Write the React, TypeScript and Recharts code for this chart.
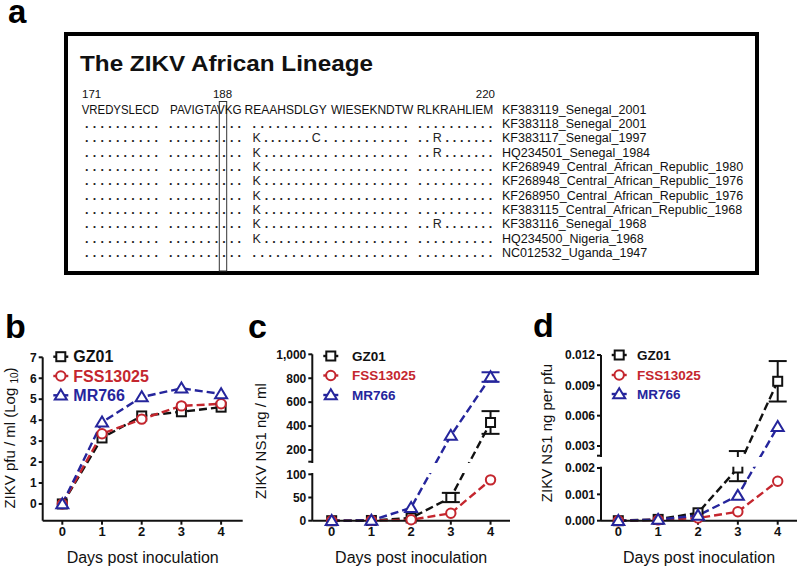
import { ErrorBar, Line, LineChart, XAxis, YAxis } from "recharts"

const FONT = '"Liberation Sans", Arial, Helvetica, sans-serif'
const INK = "#111111"
const RED = "#c4262e"
const BLUE = "#25259c"

// ---- panel a: alignment ----
const firstPos = "171"
const markPos = "188"
const lastPos = "220"
const refBlocks = ["VREDYSLECD", "PAVIGTAVKG", "REAAHSDLGY", "WIESEKNDTW", "RLKRAHLIEM"]
const strainNames = [
  "KF383119_Senegal_2001",
  "KF383118_Senegal_2001",
  "KF383117_Senegal_1997",
  "HQ234501_Senegal_1984",
  "KF268949_Central_African_Republic_1980",
  "KF268948_Central_African_Republic_1976",
  "KF268950_Central_African_Republic_1976",
  "KF383115_Central_African_Republic_1968",
  "KF383116_Senegal_1968",
  "HQ234500_Nigeria_1968",
  "NC012532_Uganda_1947",
]
const D = ".........."
const alnRows = [
  [D, D, D, D, D],
  [D, D, "K.......C.", D, "..R......."],
  [D, D, "K.........", D, "..R......."],
  [D, D, "K.........", D, D],
  [D, D, "K.........", D, D],
  [D, D, "K.........", D, D],
  [D, D, "K.........", D, D],
  [D, D, "K.........", D, "..R......."],
  [D, D, "K.........", D, D],
  [D, D, D, D, D],
]

// ---- panels b-d ----
const days = [0, 1, 2, 3, 4]
const seriesNames = ["GZ01", "FSS13025", "MR766"]

// b: ZIKV pfu / ml (log10)
const gzPfu = [0, 3.15, 4.2, 4.4, 4.62]
const fssPfu = [0, 3.35, 4.05, 4.68, 4.78]
const mrPfu = [0, 3.9, 5.1, 5.52, 5.25]
const pfuTicks = [0, 1, 2, 3, 4, 5, 6, 7]

// c: ZIKV NS1 ng / ml
const gzNs1 = [0, 0.5, 6, 50, 430]
const gzNs1Err = [0, 0, 0, 10, 95]
const fssNs1 = [0, 0.3, 2, 16, 88]
const mrNs1 = [0, 0.5, 28, 320, 810]
const mrNs1Err = [0, 0, 0, 0, 40]
const ns1Ticks = [0, 50, 100, 200, 400, 600, 800, 1000]
const ns1TickLabels = ["0", "50", "100", "200", "400", "600", "800", "1,000"]

// d: ZIKV NS1 ng per pfu
const gzRatio = [0, 0.00005, 0.0003, 0.002, 0.0094]
const gzRatioErr = [0, 0, 0, 0.0005, 0.002]
const fssRatio = [0, 0.00003, 0.0001, 0.00034, 0.0015]
const mrRatio = [0, 0.00004, 0.0002, 0.00095, 0.0049]
const ratioTicks = [0, 0.001, 0.002, 0.003, 0.006, 0.009, 0.012]
const ratioTickLabels = ["0.000", "0.001", "0.002", "0.003", "0.006", "0.009", "0.012"]

// broken y axis: lower segment up to lowMax, upper segment from upBase
type Brk = { lowMax: number; lowPx: number; upBase: number; upBasePx: number; upPerUnit: number; gapTop: number }
const brkC: Brk = { lowMax: 100, lowPx: 46.4, upBase: 200, upBasePx: 70.7, upPerUnit: 0.1196, gapTop: 59 }
const brkD: Brk = { lowMax: 0.002, lowPx: 52.7, upBase: 0.003, upBasePx: 74.7, upPerUnit: 10111, gapTop: 65 }

const tf = (b: Brk, v: number) =>
  v <= b.lowMax ? (v * b.lowPx) / b.lowMax : b.upBasePx + (v - b.upBase) * b.upPerUnit

const errPair = (b: Brk, v: number, e: number) =>
  e ? [tf(b, v) - tf(b, v - e), tf(b, v + e) - tf(b, v)] : null

type Geo = {
  left: number; top: number; width: number; height: number
  plotLeft: number; plotRight: number; plotTop: number; plotBottom: number
  xMin: number; xMax: number
}
const X_AXIS_H = 30
const geoB: Geo = { left: 0, top: 330, width: 260, height: 237, plotLeft: 42.7, plotRight: 242.7, plotTop: 357.3, plotBottom: 520.7, xMin: -0.494, xMax: 4.544 }
const geoC: Geo = { left: 260, top: 330, width: 265, height: 237, plotLeft: 312.3, plotRight: 510, plotTop: 354.3, plotBottom: 520.7, xMin: -0.488, xMax: 4.49 }
const geoD: Geo = { left: 530, top: 330, width: 270, height: 237, plotLeft: 601, plotRight: 797, plotTop: 355, plotBottom: 520.7, xMin: -0.434, xMax: 4.484 }

type Shape = "square" | "circle" | "triangle"
const styles: { key: string; color: string; shape: Shape }[] = [
  { key: "gz", color: INK, shape: "square" },
  { key: "fss", color: RED, shape: "circle" },
  { key: "mr", color: BLUE, shape: "triangle" },
]

function Marker({ shape, x, y, color }: { shape: Shape; x: number; y: number; color: string }) {
  if (shape === "square")
    return <rect x={x - 4.5} y={y - 4.5} width={9} height={9} fill="#fff" stroke={color} strokeWidth={2} />
  if (shape === "circle") return <circle cx={x} cy={y} r={4.7} fill="#fff" stroke={color} strokeWidth={2} />
  return (
    <polygon
      points={`${x},${y - 5.8} ${x - 6},${y + 4.2} ${x + 6},${y + 4.2}`}
      fill="#fff"
      stroke={color}
      strokeWidth={2}
    />
  )
}

const makeDot = (shape: Shape, color: string) => (p: any) => {
  if (p.cx == null || p.cy == null) return <g key={p.index} />
  return (
    <g key={p.index}>
      <Marker shape={shape} x={p.cx} y={p.cy} color={color} />
    </g>
  )
}

function Panel({
  geo, data, yDomain, yTicks, yFormat, errKeys,
}: {
  geo: Geo; data: any[]; yDomain: number[]; yTicks: number[]
  yFormat: (v: number) => string; errKeys: Record<string, string>
}) {
  const margin = {
    top: geo.plotTop - geo.top,
    right: geo.left + geo.width - geo.plotRight,
    bottom: geo.top + geo.height - geo.plotBottom - X_AXIS_H,
    left: 0,
  }
  const tickStyle = { fontSize: 12, fontWeight: 700, fill: INK, fontFamily: FONT }
  return (
    <div style={{ position: "absolute", left: geo.left, top: geo.top }}>
      <LineChart width={geo.width} height={geo.height} data={data} margin={margin}>
        <XAxis
          type="number"
          dataKey="day"
          domain={[geo.xMin, geo.xMax]}
          ticks={days}
          interval={0}
          height={X_AXIS_H}
          tickSize={4}
          tickMargin={2}
          tick={{ ...tickStyle, fontSize: 13 }}
          axisLine={{ stroke: INK, strokeWidth: 2 }}
          tickLine={{ stroke: INK, strokeWidth: 2 }}
        />
        <YAxis
          type="number"
          domain={yDomain}
          ticks={yTicks}
          interval={0}
          width={geo.plotLeft - geo.left}
          tickSize={4}
          tickMargin={2}
          tickFormatter={yFormat}
          tick={tickStyle}
          axisLine={{ stroke: INK, strokeWidth: 2 }}
          tickLine={{ stroke: INK, strokeWidth: 2 }}
        />
        {styles.map((s) => (
          <Line
            key={s.key}
            type="linear"
            dataKey={s.key}
            stroke={s.color}
            strokeWidth={2.4}
            strokeDasharray="8 4"
            dot={makeDot(s.shape, s.color)}
            activeDot={false}
            isAnimationActive={false}
          >
            {errKeys[s.key] ? (
              <ErrorBar dataKey={errKeys[s.key]} width={9} strokeWidth={2} stroke={s.color} direction="y" />
            ) : null}
          </Line>
        ))}
      </LineChart>
    </div>
  )
}

const dataB = days.map((d, i) => ({ day: d, gz: gzPfu[i], fss: fssPfu[i], mr: mrPfu[i] }))
const dataC = days.map((d, i) => ({
  day: d,
  gz: tf(brkC, gzNs1[i]),
  fss: tf(brkC, fssNs1[i]),
  mr: tf(brkC, mrNs1[i]),
  gzErr: errPair(brkC, gzNs1[i], gzNs1Err[i]),
  mrErr: errPair(brkC, mrNs1[i], mrNs1Err[i]),
}))
const dataD = days.map((d, i) => ({
  day: d,
  gz: tf(brkD, gzRatio[i]),
  fss: tf(brkD, fssRatio[i]),
  mr: tf(brkD, mrRatio[i]),
  gzErr: errPair(brkD, gzRatio[i], gzRatioErr[i]),
}))

// tick lists for broken axes, with an unlabeled tick at the bottom of the upper segment
const brokenTicks = (b: Brk, vals: number[], labels: string[]) => {
  const pos = vals.map((v) => tf(b, v))
  const all = [...pos, b.gapTop].sort((a, c) => a - c)
  const fmt = (t: number) => {
    const i = pos.findIndex((p) => Math.abs(p - t) < 1e-6)
    return i >= 0 ? labels[i] : ""
  }
  return { all, fmt }
}
const ticksC = brokenTicks(brkC, ns1Ticks, ns1TickLabels)
const ticksD = brokenTicks(brkD, ratioTicks, ratioTickLabels)

type LegendSpec = { x0: number; x1: number; textX: number; ys: number[]; fs: number }
const legB: LegendSpec = { x0: 53.3, x1: 68.3, textX: 73.3, ys: [356.7, 376, 395.3], fs: 16 }
const legC: LegendSpec = { x0: 323.3, x1: 338.3, textX: 352, ys: [356, 375.5, 395], fs: 13.5 }
const legD: LegendSpec = { x0: 611.7, x1: 626.7, textX: 637, ys: [355, 375, 394], fs: 13.5 }

function LegendBlock({ spec }: { spec: LegendSpec }) {
  return (
    <g>
      {styles.map((s, i) => {
        const y = spec.ys[i]
        return (
          <g key={s.key}>
            <line x1={spec.x0} x2={spec.x1} y1={y} y2={y} stroke={s.color} strokeWidth={2.4} />
            <Marker shape={s.shape} x={(spec.x0 + spec.x1) / 2} y={y} color={s.color} />
            <text x={spec.textX} y={y + spec.fs * 0.36} fontSize={spec.fs} fontWeight={700} fill={s.color}>
              {seriesNames[i]}
            </text>
          </g>
        )
      })}
    </g>
  )
}

function BreakMask({ geo, brk }: { geo: Geo; brk: Brk }) {
  const yTop = geo.plotBottom - brk.gapTop + 1.3
  const yBot = geo.plotBottom - brk.lowPx - 1.3
  return <rect x={geo.plotLeft - 3} y={yTop} width={geo.plotRight - geo.plotLeft + 6} height={yBot - yTop} fill="#fff" />
}

const blockStarts = [81.7, 170, 244.5, 331, 416.7]
const blockWidths = [77.3, 71.7, 82.2, 82.3, 76.6]
const dotStarts = [85, 169, 252.5, 334, 418.3]
const dotWidths = [73, 72, 75, 73.5, 74]
const ROW0 = 113.5
const PITCH = 14.35

function Alignment() {
  return (
    <g fill={INK}>
      <rect x={66} y={34} width={691} height={239} fill="none" stroke="#000" strokeWidth={4} />
      <text x={80} y={70.5} fontSize={22} fontWeight={700} textLength={293} lengthAdjust="spacingAndGlyphs">
        The ZIKV African Lineage
      </text>
      <text x={82} y={98} fontSize={11.5}>{firstPos}</text>
      <text x={222.5} y={98} fontSize={11.5} textAnchor="middle">{markPos}</text>
      <text x={495} y={98} fontSize={11.5} textAnchor="end">{lastPos}</text>
      <rect x={219.3} y={101.5} width={7.4} height={169.5} fill="none" stroke="#333" strokeWidth={1} />
      {refBlocks.map((b, j) => (
        <text key={j} x={blockStarts[j]} y={ROW0} fontSize={12.5} textLength={blockWidths[j]} lengthAdjust="spacingAndGlyphs">
          {b}
        </text>
      ))}
      {alnRows.map((row, i) =>
        row.map((b, j) => (
          <text
            key={`${i}-${j}`}
            x={dotStarts[j]}
            y={ROW0 + (i + 1) * PITCH}
            fontSize={12.5}
            fill="#222"
            textLength={dotWidths[j]}
            lengthAdjust="spacing"
          >
            {b.split("").map((ch, k) => (
              <tspan key={k} fontWeight={ch === "." ? 700 : 400}>
                {ch}
              </tspan>
            ))}
          </text>
        ))
      )}
      {strainNames.map((n, i) => (
        <text key={n} x={502} y={ROW0 + i * PITCH} fontSize={12.5}>
          {n}
        </text>
      ))}
    </g>
  )
}

export default function App() {
  const mid = (g: Geo) => (g.plotLeft + g.plotRight) / 2
  return (
    <div style={{ position: "absolute", left: 0, top: 0, width: 800, height: 567, background: "#fff", fontFamily: FONT, overflow: "hidden" }}>
      <Panel geo={geoB} data={dataB} yDomain={[-0.8, 7]} yTicks={pfuTicks} yFormat={(v) => String(v)} errKeys={{}} />
      <Panel geo={geoC} data={dataC} yDomain={[0, geoC.plotBottom - geoC.plotTop]} yTicks={ticksC.all} yFormat={ticksC.fmt} errKeys={{ gz: "gzErr", mr: "mrErr" }} />
      <Panel geo={geoD} data={dataD} yDomain={[0, geoD.plotBottom - geoD.plotTop]} yTicks={ticksD.all} yFormat={ticksD.fmt} errKeys={{ gz: "gzErr" }} />
      <svg width={800} height={567} style={{ position: "absolute", left: 0, top: 0, pointerEvents: "none" }} fontFamily={FONT}>
        <Alignment />
        <BreakMask geo={geoC} brk={brkC} />
        <BreakMask geo={geoD} brk={brkD} />
        <LegendBlock spec={legB} />
        <LegendBlock spec={legC} />
        <LegendBlock spec={legD} />

        <text x={8} y={23} fontSize={33} fontWeight={700} fill="#000">a</text>
        <text x={5} y={338} fontSize={34} fontWeight={700} fill="#000">b</text>
        <text x={248} y={338} fontSize={34} fontWeight={700} fill="#000">c</text>
        <text x={533} y={337} fontSize={34} fontWeight={700} fill="#000">d</text>

        <text x={mid(geoB)} y={563} fontSize={16} textAnchor="middle" fill={INK}>Days post inoculation</text>
        <text x={mid(geoC)} y={563} fontSize={16} textAnchor="middle" fill={INK}>Days post inoculation</text>
        <text x={mid(geoD)} y={563} fontSize={16} textAnchor="middle" fill={INK}>Days post inoculation</text>

        <text transform="translate(15,438) rotate(-90)" fontSize={15} textAnchor="middle" fill={INK}>
          ZIKV pfu / ml (Log <tspan fontSize={10} dy={3}>10</tspan>
          <tspan dy={-3}>)</tspan>
        </text>
        <text transform="translate(266,441) rotate(-90)" fontSize={15} textAnchor="middle" fill={INK}>
          ZIKV NS1 ng / ml
        </text>
        <text transform="translate(552,433) rotate(-90)" fontSize={15} textAnchor="middle" fill={INK}>
          ZIKV NS1 ng per pfu
        </text>
      </svg>
    </div>
  )
}
